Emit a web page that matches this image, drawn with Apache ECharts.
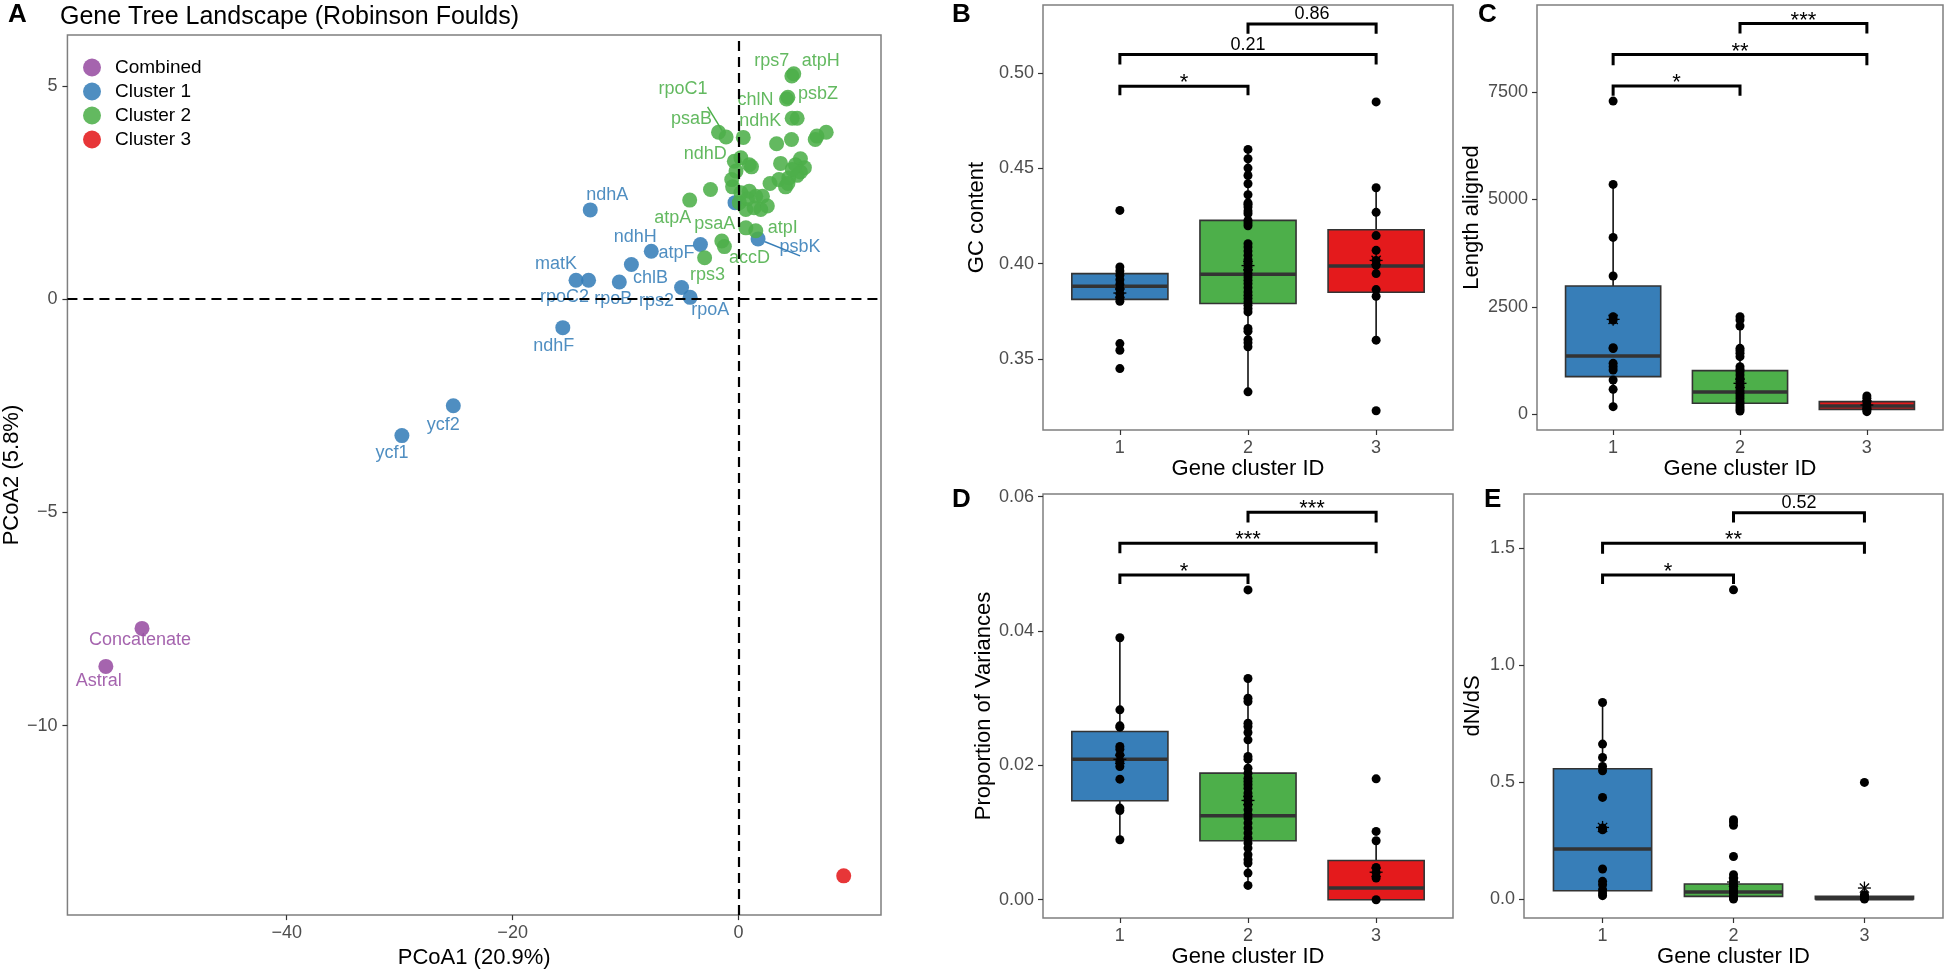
<!DOCTYPE html>
<html>
<head>
<meta charset="utf-8">
<title>Gene Tree Landscape</title>
<script src="https://cdn.jsdelivr.net/npm/echarts@6.0.0/dist/echarts.min.js"></script>
<style>
  html, body { margin: 0; padding: 0; background: #fff; }
  #main { width: 1944px; height: 974px; }
</style>
</head>
<body>
<div id="main"></div>
<script>
// ---------- panel A: PCoA of gene trees (x, y, label) ----------
const combined = [[-52.8, -7.72, 'Concatenate'], [-56.0, -8.61, 'Astral']];
const cluster1 = [
  [-13.13, 2.09, 'ndhA'], [-7.73, 1.12, 'ndhH'], [-3.38, 1.28, 'atpF'],
  [-9.49, 0.81, 'chlB'], [-14.39, 0.44, 'matK'], [-13.28, 0.44, 'rpoC2'],
  [-10.56, 0.40, 'rpoB'], [-5.05, 0.27, 'rps2'], [-4.29, 0.04, 'rpoA'],
  [-15.56, -0.67, 'ndhF'], [-25.25, -2.50, 'ycf2'], [-29.8, -3.20, 'ycf1'],
  [1.72, 1.41, 'psbK'], [-0.32, 2.26, '']
];
const cluster2 = [
  [4.88, 5.28, 'atpH'], [4.71, 5.23, 'rps7'], [4.36, 4.73, 'psbZ'], [4.24, 4.69, 'chlN'],
  [4.74, 4.24, 'ndhK'], [5.18, 4.24, ''], [3.36, 3.64, ''], [4.68, 3.74, ''],
  [6.93, 3.82, ''], [7.75, 3.91, ''], [6.78, 3.74, ''], [-1.78, 3.91, 'psaB'],
  [-1.11, 3.80, 'rpoC1'], [0.41, 3.79, ''], [-0.38, 3.23, 'ndhD'], [0.20, 3.31, ''],
  [0.94, 3.15, ''], [1.14, 3.10, ''], [3.71, 3.18, ''], [5.03, 3.15, ''],
  [5.47, 3.29, ''], [5.82, 3.08, ''], [4.44, 2.84, ''], [5.18, 2.90, ''],
  [4.15, 2.63, ''], [5.47, 2.98, ''], [2.78, 2.71, ''], [3.57, 2.80, ''],
  [-0.61, 2.80, ''], [-0.53, 2.63, ''], [0.20, 2.49, ''], [0.94, 2.53, ''],
  [1.52, 2.41, ''], [2.11, 2.41, ''], [0.06, 2.26, ''], [0.64, 2.10, ''],
  [1.37, 2.14, ''], [1.96, 2.10, ''], [2.54, 2.18, ''], [-2.49, 2.57, ''],
  [-4.33, 2.32, 'atpA'], [0.64, 1.67, ''], [1.52, 1.60, 'atpI'], [-1.49, 1.36, 'psaA'],
  [-1.26, 1.23, 'accD'], [-3.01, 0.97, 'rps3'], [4.36, 2.71, ''], [4.74, 3.04, ''],
  [0.79, 2.35, ''], [-0.23, 3.0, '']
];
const cluster3 = [[9.3, -13.52, '']];
const pcoaXTicks = [-40, -20, 0];
const pcoaYTicks = [-10, -5, 0, 5];

// ---------- panels B-E: per cluster [min, q1, median, q3, max], points, means ----------
const clusterTicks = [1, 2, 3];

const gcStats = [[0.3803, 0.3813, 0.3881, 0.3948, 0.3983], [0.3328, 0.3791, 0.3944, 0.4227, 0.4599], [0.3599, 0.3850, 0.3988, 0.4178, 0.4398]];
const gcPts1 = [0.4279, 0.3983, 0.3962, 0.3939, 0.3916, 0.3892, 0.3867, 0.3843, 0.382, 0.3803, 0.3581, 0.3546, 0.345];
const gcPts2 = [0.4599, 0.455, 0.4501, 0.4462, 0.4419, 0.4361, 0.4319, 0.4311, 0.4297, 0.4276, 0.4262, 0.4227, 0.4213, 0.4199, 0.4105, 0.4087, 0.4066, 0.4044, 0.4021, 0.40, 0.3983, 0.3965, 0.3948, 0.393, 0.3913, 0.3895, 0.3874, 0.3852, 0.3834, 0.3817, 0.3799, 0.3782, 0.3764, 0.3747, 0.366, 0.3646, 0.3602, 0.3585, 0.3564, 0.3328];
const gcPts3 = [0.4848, 0.4398, 0.4269, 0.4147, 0.407, 0.4017, 0.3991, 0.3948, 0.3864, 0.3829, 0.3599, 0.3229];
const gcMeans = [0.3846, 0.399, 0.4017];
const gcBrackets = [[1, 2, 0.493, 0.4883, '*'], [1, 3, 0.5096, 0.5044, '0.21'], [2, 3, 0.5257, 0.5205, '0.86']];
const gcTicks = [0.35, 0.40, 0.45, 0.50];

const lenStats = [[178, 876, 1357, 2984, 5349], [78, 256, 519, 1016, 2271], [62, 116, 194, 295, 411]];
const lenPts1 = [7287, 5349, 4116, 3217, 2271, 2194, 1550, 1530, 1186, 1109, 1031, 798, 581, 178];
const lenPts2 = [2271, 2194, 2054, 1535, 1481, 1419, 1341, 1109, 1047, 992, 915, 837, 760, 682, 620, 550, 488, 426, 364, 295, 240, 178, 124, 78];
const lenPts3 = [426, 372, 295, 217, 163, 101, 62];
const lenMeans = [2209, 721, 217];
const lenBrackets = [[1, 2, 7636, 7411, '*'], [1, 3, 8372, 8124, '**'], [2, 3, 9093, 8861, '***']];
const lenTicks = [0, 2500, 5000, 7500];

const varStats = [[0.00893, 0.01473, 0.02093, 0.02504, 0.0390], [0.00213, 0.00878, 0.0125, 0.01884, 0.03293], [0, 0, 0.00174, 0.00585, 0.00878]];
const varPts1 = [0.0390, 0.02827, 0.02589, 0.02569, 0.02281, 0.02241, 0.02157, 0.02058, 0.01984, 0.01795, 0.01364, 0.01329, 0.00893];
const varPts2 = [0.04612, 0.03293, 0.0300, 0.02951, 0.02628, 0.02579, 0.02489, 0.0238, 0.02132, 0.02093, 0.01959, 0.01884, 0.0181, 0.0176, 0.01711, 0.01661, 0.01587, 0.01537, 0.01478, 0.01413, 0.01339, 0.01265, 0.01215, 0.01141, 0.01066, 0.00992, 0.00917, 0.00843, 0.00769, 0.00669, 0.00595, 0.00545, 0.00397, 0.00213];
const varPts3 = [0.018, 0.01017, 0.00878, 0.00481, 0.00407, 0.00322, 0];
const varMeans = [0.0209, 0.01478, 0.0041];
const varBrackets = [[1, 2, 0.04835, 0.04701, '*'], [1, 3, 0.05306, 0.05157, '***'], [2, 3, 0.05767, 0.05614, '***']];
const varTicks = [0, 0.02, 0.04, 0.06];

const dndsStats = [[0.0142, 0.0356, 0.2137, 0.557, 0.8405], [0, 0.0114, 0.0299, 0.0641, 0.104], [0, 0, 0.0014, 0.0114, 0.0185]];
const dndsPts1 = [0.8405, 0.6624, 0.6054, 0.567, 0.5484, 0.4345, 0.3034, 0.2963, 0.1282, 0.0755, 0.0613, 0.0399, 0.0256, 0.0142];
const dndsPts2 = [1.322, 0.339, 0.329, 0.315, 0.182, 0.104, 0.0897, 0.0783, 0.0655, 0.0541, 0.0427, 0.0328, 0.0228, 0.0114, 0.005, 0];
const dndsPts3 = [0.4986, 0.0185, 0.0114, 0.0043, 0];
const dndsMeans = [0.306, 0.0727, 0.047];
const dndsBrackets = [[1, 2, 1.386, 1.3476, '*'], [1, 3, 1.521, 1.476, '**'], [2, 3, 1.652, 1.6097, '0.52']];
const dndsTicks = [0, 0.5, 1.0, 1.5];

// label nudges (px) for the gene names in panel A
const nudge = {
  ndhA: [17, -15], ndhH: [-16, -14], atpF: [-24, 9], chlB: [19, 14], matK: [-20, -16],
  rpoC2: [-24, 17], rpoB: [-6, 17], rps2: [-25, 13], rpoA: [20, 13], ndhF: [-9, 18],
  ycf2: [-10, 19], ycf1: [-10, 17], psbK: [42, 8],
  rps7: [-20, -15], atpH: [27, -13], chlN: [-31, 1], psbZ: [30, -3], ndhK: [-32, 3],
  rpoC1: [-43, -48], psaB: [-27, -13], ndhD: [-29, -7], atpA: [-17, 18], psaA: [-7, -17],
  accD: [25, 11], atpI: [27, -3], rps3: [3, 17],
  Concatenate: [-2, 12], Astral: [-7, 15]
};
const guided = ['rpoC1', 'psbK'];

const FONT = 'Liberation Sans, Arial, sans-serif';
const purple = '#984EA3', blue = '#377EB8', green = '#4DAF4A', red = '#E41A1C';
const boxColors = [blue, green, red];
const minus = v => String(v).replace('-', '\u2212');

const chart = echarts.init(document.getElementById('main'));

function pcoaSeries(name, list, color) {
  return {
    name, type: 'scatter', xAxisIndex: 0, yAxisIndex: 0, z: 3, silent: true,
    symbolSize: 15,
    itemStyle: { color, opacity: 0.88 },
    label: { show: false, position: 'inside', formatter: '{b}', color, fontSize: 18, fontFamily: FONT },
    labelLine: { show: false, lineStyle: { color, width: 1.5 } },
    data: list.map(p => {
      const item = { value: [p[0], p[1]], name: p[2] };
      if (p[2]) {
        item.label = { show: true, offset: nudge[p[2]] || [0, 0] };
        if (guided.includes(p[2])) item.labelLine = { show: true };
      }
      return item;
    })
  };
}

const tickStyle = { color: '#333', width: 1.2 };

function boxAxisX(g, bottomName) {
  return {
    type: 'value', gridIndex: g, min: 0.4, max: 3.6,
    axisLine: { show: false, onZero: false }, splitLine: { show: false },
    axisTick: { show: true, length: 5, customValues: clusterTicks, lineStyle: tickStyle },
    axisLabel: { customValues: clusterTicks, margin: 9, fontSize: 18, color: '#4D4D4D', fontFamily: FONT },
    name: bottomName, nameLocation: 'middle', nameGap: 27,
    nameTextStyle: { fontSize: 22, color: '#000', fontFamily: FONT }
  };
}
function boxAxisY(g, min, max, ticks, fmt, name, gap) {
  return {
    type: 'value', gridIndex: g, min, max,
    axisLine: { show: false, onZero: false }, splitLine: { show: false },
    axisTick: { show: true, length: 5, customValues: ticks, lineStyle: tickStyle },
    axisLabel: { customValues: ticks, margin: 9, fontSize: 18, color: '#4D4D4D', fontFamily: FONT, formatter: fmt },
    name, nameLocation: 'middle', nameGap: gap, nameRotate: 90,
    nameTextStyle: { fontSize: 22, color: '#000', fontFamily: FONT }
  };
}

function panelSeries(g, stats, pts, means, brackets) {
  const out = [];
  // whisker, box and median
  out.push({
    type: 'custom', xAxisIndex: g, yAxisIndex: g, z: 2, silent: true,
    data: stats.map((s, i) => [i + 1].concat(s)),
    renderItem: (params, api) => {
      const x = api.value(0);
      const lo = api.coord([x, api.value(1)]), q1 = api.coord([x, api.value(2)]);
      const md = api.coord([x, api.value(3)]), q3 = api.coord([x, api.value(4)]);
      const hi = api.coord([x, api.value(5)]);
      const w = api.size([0.75, 0])[0];
      return {
        type: 'group', children: [
          { type: 'line', shape: { x1: lo[0], y1: lo[1], x2: hi[0], y2: hi[1] }, style: { stroke: '#111', lineWidth: 1.6 } },
          { type: 'rect', shape: { x: q1[0] - w / 2, y: q3[1], width: w, height: Math.max(q1[1] - q3[1], 1) },
            style: { fill: boxColors[params.dataIndex], stroke: '#333', lineWidth: 1.6 } },
          { type: 'line', shape: { x1: md[0] - w / 2, y1: md[1], x2: md[0] + w / 2, y2: md[1] }, style: { stroke: '#333', lineWidth: 3.5 } }
        ]
      };
    }
  });
  const dots = [];
  pts.forEach((list, i) => list.forEach(v => dots.push([i + 1, v])));
  out.push({
    type: 'scatter', xAxisIndex: g, yAxisIndex: g, z: 3, silent: true,
    symbolSize: 9, itemStyle: { color: '#000', opacity: 1 }, data: dots
  });
  // mean marker (asterisk)
  out.push({
    type: 'custom', xAxisIndex: g, yAxisIndex: g, z: 4, silent: true,
    data: means.map((m, i) => [i + 1, m]),
    renderItem: (params, api) => {
      const c = api.coord([api.value(0), api.value(1)]);
      const r = 6.5, d = r * 0.707;
      const st = { stroke: '#000', lineWidth: 1.3 };
      return {
        type: 'group', children: [
          { type: 'line', shape: { x1: c[0] - r, y1: c[1], x2: c[0] + r, y2: c[1] }, style: st },
          { type: 'line', shape: { x1: c[0], y1: c[1] - r, x2: c[0], y2: c[1] + r }, style: st },
          { type: 'line', shape: { x1: c[0] - d, y1: c[1] - d, x2: c[0] + d, y2: c[1] + d }, style: st },
          { type: 'line', shape: { x1: c[0] - d, y1: c[1] + d, x2: c[0] + d, y2: c[1] - d }, style: st }
        ]
      };
    }
  });
  // significance brackets
  out.push({
    type: 'custom', xAxisIndex: g, yAxisIndex: g, z: 5, silent: true,
    data: brackets.map(b => [b[0], b[1], b[2], b[3]]),
    renderItem: (params, api) => {
      const b = brackets[params.dataIndex];
      const a = api.coord([b[0], b[2]]), c = api.coord([b[1], b[2]]);
      const ta = api.coord([b[0], b[3]]), tc = api.coord([b[1], b[3]]);
      const star = b[4].charAt(0) === '*';
      return {
        type: 'group', children: [
          { type: 'polyline', shape: { points: [ta, a, c, tc] }, style: { stroke: '#000', lineWidth: 3, fill: 'none' } },
          { type: 'text', style: {
              text: b[4], x: (a[0] + c[0]) / 2, y: a[1] - (star ? 3 : 10),
              align: 'center', verticalAlign: 'middle', fill: '#000',
              fontSize: star ? 22 : 18, fontFamily: FONT } }
        ]
      };
    }
  });
  return out;
}

const gridBorder = { show: true, borderColor: '#7F7F7F', borderWidth: 1.5, backgroundColor: 'transparent' };

const option = {
  animation: false,
  textStyle: { fontFamily: FONT },
  grid: [
    Object.assign({ left: 60, top: 35, width: 821, height: 883 }, gridBorder),
    Object.assign({ left: 1043, top: 5, width: 410, height: 425 }, gridBorder),
    Object.assign({ left: 1537, top: 5, width: 406, height: 425 }, gridBorder),
    Object.assign({ left: 1043, top: 494, width: 410, height: 424 }, gridBorder),
    Object.assign({ left: 1524, top: 494, width: 419, height: 424 }, gridBorder)
  ],
  legend: {
    data: ['Combined', 'Cluster 1', 'Cluster 2', 'Cluster 3'],
    orient: 'vertical', left: 78, top: 53,
    icon: 'circle', itemWidth: 18, itemHeight: 18, itemGap: 5,
    textStyle: { fontSize: 19, color: '#000', fontFamily: FONT, padding: [0, 0, 0, 9] }
  },
  xAxis: [
    {
      type: 'value', gridIndex: 0, min: -59.4, max: 12.6,
      axisLine: { show: false, onZero: false }, splitLine: { show: false },
      axisTick: { show: true, length: 5, customValues: pcoaXTicks, lineStyle: tickStyle },
      axisLabel: { customValues: pcoaXTicks, margin: 9, fontSize: 18, color: '#4D4D4D', formatter: minus },
      name: 'PCoA1 (20.9%)', nameLocation: 'middle', nameGap: 27,
      nameTextStyle: { fontSize: 22, color: '#000' }
    },
    boxAxisX(1, 'Gene cluster ID'), boxAxisX(2, 'Gene cluster ID'),
    boxAxisX(3, 'Gene cluster ID'), boxAxisX(4, 'Gene cluster ID')
  ],
  yAxis: [
    {
      type: 'value', gridIndex: 0, min: -14.44, max: 6.19,
      axisLine: { show: false, onZero: false }, splitLine: { show: false },
      axisTick: { show: true, length: 5, customValues: pcoaYTicks, lineStyle: tickStyle },
      axisLabel: { customValues: pcoaYTicks, margin: 10, fontSize: 18, color: '#4D4D4D', formatter: minus },
      name: 'PCoA2 (5.8%)', nameLocation: 'middle', nameGap: 35, nameRotate: 90,
      nameTextStyle: { fontSize: 22, color: '#000' }
    },
    boxAxisY(1, 0.3128, 0.5356, gcTicks, v => v.toFixed(2), 'GC content', 55),
    boxAxisY(2, -365, 9523, lenTicks, v => String(v), 'Length aligned', 54),
    boxAxisY(3, -0.00272, 0.0604, varTicks, v => v.toFixed(2), 'Proportion of Variances', 47),
    boxAxisY(4, -0.0812, 1.732, dndsTicks, v => v.toFixed(1), 'dN/dS', 40)
  ],
  series: [
    {
      type: 'line', xAxisIndex: 0, yAxisIndex: 0, z: 1, silent: true, data: [],
      markLine: {
        silent: true, symbol: 'none', label: { show: false },
        lineStyle: { color: '#000', width: 2.2, type: [10, 6] },
        data: [{ xAxis: 0 }, { yAxis: 0 }]
      }
    },
    pcoaSeries('Combined', combined, purple),
    pcoaSeries('Cluster 1', cluster1, blue),
    pcoaSeries('Cluster 2', cluster2, green),
    pcoaSeries('Cluster 3', cluster3, red)
  ]
    .concat(panelSeries(1, gcStats, [gcPts1, gcPts2, gcPts3], gcMeans, gcBrackets))
    .concat(panelSeries(2, lenStats, [lenPts1, lenPts2, lenPts3], lenMeans, lenBrackets))
    .concat(panelSeries(3, varStats, [varPts1, varPts2, varPts3], varMeans, varBrackets))
    .concat(panelSeries(4, dndsStats, [dndsPts1, dndsPts2, dndsPts3], dndsMeans, dndsBrackets)),
  graphic: [
    { type: 'text', left: 60, top: 5, style: { text: 'Gene Tree Landscape (Robinson Foulds)', fontSize: 25, fill: '#000', fontFamily: FONT } },
    { type: 'text', left: 8, top: 2, style: { text: 'A', fontSize: 26, fontWeight: 'bold', fill: '#000', fontFamily: FONT } },
    { type: 'text', left: 952, top: 2, style: { text: 'B', fontSize: 26, fontWeight: 'bold', fill: '#000', fontFamily: FONT } },
    { type: 'text', left: 1478, top: 2, style: { text: 'C', fontSize: 26, fontWeight: 'bold', fill: '#000', fontFamily: FONT } },
    { type: 'text', left: 952, top: 487, style: { text: 'D', fontSize: 26, fontWeight: 'bold', fill: '#000', fontFamily: FONT } },
    { type: 'text', left: 1484, top: 487, style: { text: 'E', fontSize: 26, fontWeight: 'bold', fill: '#000', fontFamily: FONT } }
  ]
};

chart.setOption(option);
</script>
</body>
</html>
